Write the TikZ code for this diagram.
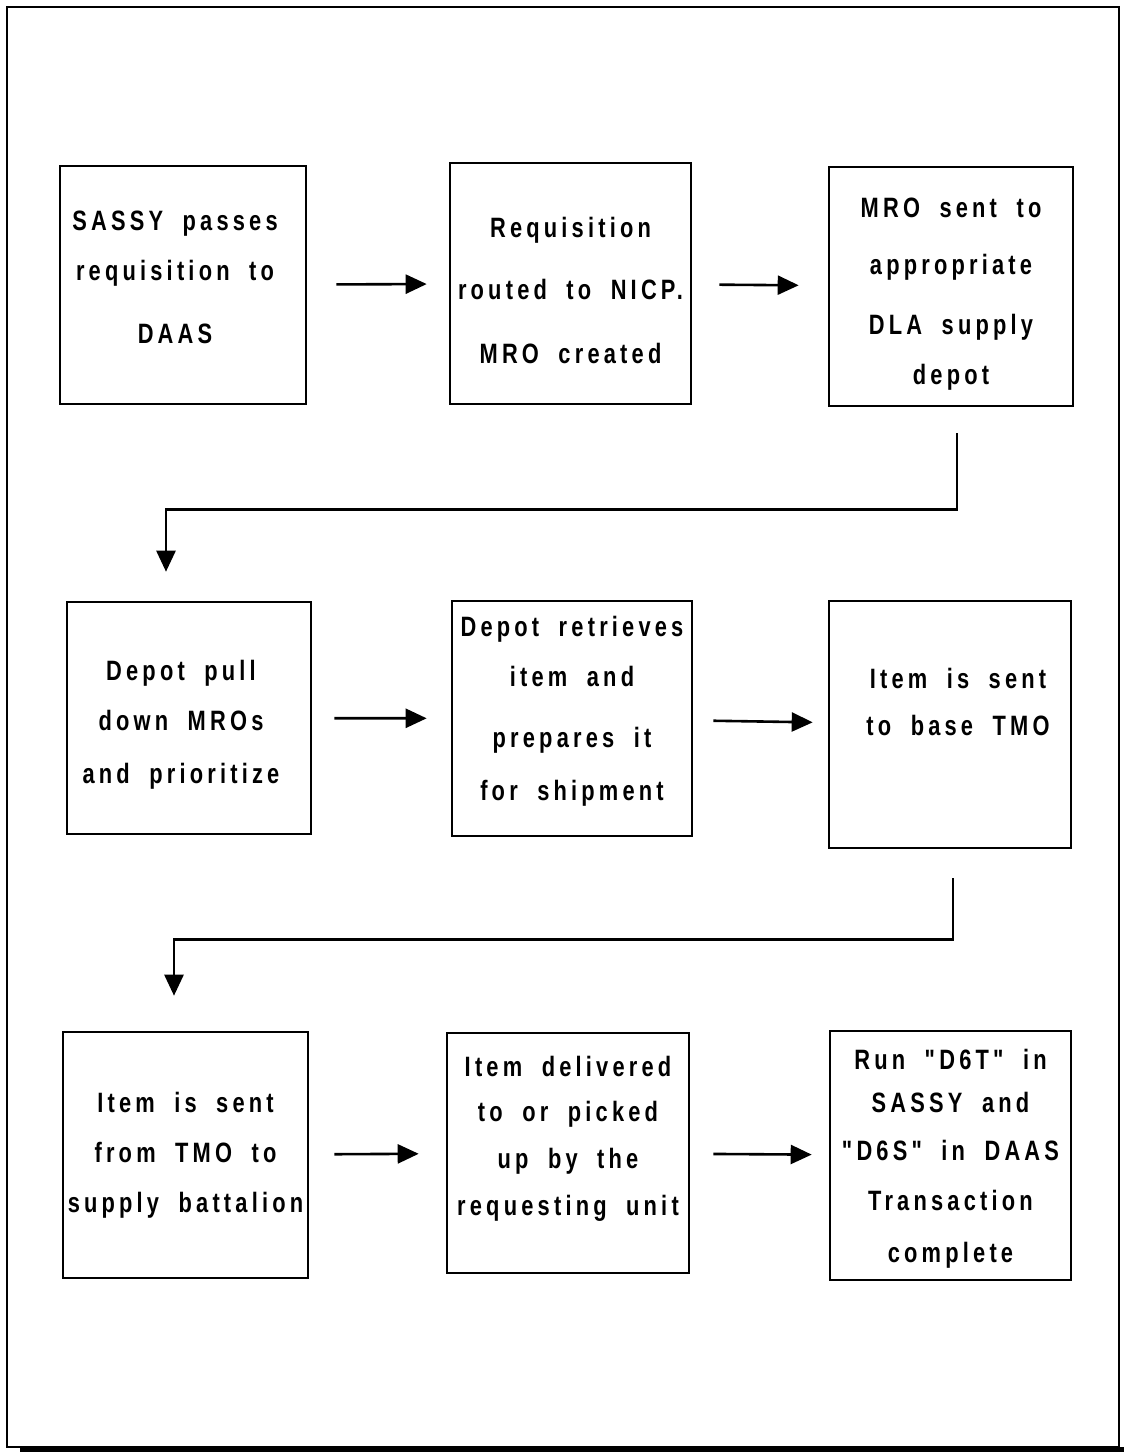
\documentclass[tikz,border=0pt]{standalone}
\usepackage{fontspec}
\newfontfamily\boxfont{Liberation Sans Bold}[FakeStretch=0.78, LetterSpace=15, WordSpace=1.9, Ligatures=TeXOff]
\usepackage{tikz}
\usetikzlibrary{arrows.meta, positioning, calc}

\tikzset{
  procbox/.style={draw, line width=2.6pt, inner sep=0pt},
  proctext/.style={inner sep=0pt, align=center, font=\boxfont\fontsize{28}{50}\selectfont},
  flow/.style={-{Triangle[length=21pt, width=19pt]}, line width=2.6pt},
}

\begin{document}
\begin{tikzpicture}[x=1pt, y=-1pt]
  \useasboundingbox (0,0) rectangle (1124,1452);

  % Frame
  \draw[line width=1.6pt] (7,7) rectangle (1119,1447);
  \draw[line width=5pt] (20,1449.5) -- (1124,1449.5);

  % Row 1
  \node[procbox, minimum width=246pt, minimum height=238pt] (sassy) at (183, 285) {};
  \node[procbox, minimum width=241pt, minimum height=241pt] (nicp) at (570.5, 283.5) {};
  \node[procbox, minimum width=244pt, minimum height=239pt] (mro) at (951, 286.5) {};
  \node[proctext] (sassytext) at ([xshift=-8pt, yshift=8pt]sassy.center) {SASSY passes\\requisition to\\[13pt]DAAS};
  \node[proctext] (nicptext) at ([yshift=-7pt]nicp.center) {Requisition\\[12pt]routed to NICP.\\[14pt]MRO created};
  \node[proctext] (mrotext) at ([yshift=-8pt]mro.center) {MRO sent to\\[7pt]appropriate\\[10pt]DLA supply\\depot};
  \draw[flow, shorten <=29pt, shorten >=22pt] (sassy) -- (nicp);
  \draw[flow, shorten <=27pt, shorten >=29pt] (nicp) -- (mro);

  % Row 2
  \node[procbox, minimum width=244pt, minimum height=232pt] (depot) at (189, 718) {};
  \node[procbox, minimum width=240pt, minimum height=235pt] (retrieve) at (572, 718.5) {};
  \node[procbox, minimum width=242pt, minimum height=247pt] (tmo) at (950, 724.5) {};
  \node[proctext] (depottext) at ([xshift=-8pt, yshift=-7pt]depot.center) {Depot pull\\down MROs\\[3pt]and prioritize};
  \node[proctext] (retrievetext) at ([yshift=7pt]retrieve.center) {Depot retrieves\\item and\\[11pt]prepares it\\[3pt]for shipment};
  \node[proctext] (tmotext) at ([xshift=8pt, yshift=23pt]tmo.center) {Item is sent\\[-3pt]to base TMO};
  \draw[flow, shorten <=22pt, shorten >=24pt] (depot) -- (retrieve);
  \draw[flow, shorten <=20pt, shorten >=15pt] (retrieve) -- (tmo);

  % Row 1 to row 2
  \draw[flow] ([xshift=6pt, yshift=-26pt]mro.south) -- ++(0,76) -| ([xshift=-23pt, yshift=29pt]depot.north);

  % Row 3
  \node[procbox, minimum width=245pt, minimum height=246pt] (battalion) at (185.5, 1155) {};
  \node[procbox, minimum width=242pt, minimum height=240pt] (unit) at (568, 1153) {};
  \node[procbox, minimum width=241pt, minimum height=249pt] (done) at (950.5, 1155.5) {};
  \node[proctext] (battaliontext) at (battalion.center) {Item is sent\\from TMO to\\supply battalion};
  \node[proctext] (unittext) at ([yshift=14pt]unit.center) {Item delivered\\[-5pt]to or picked\\[-3pt]up by the\\[-3pt]requesting unit};
  \node[proctext] (donetext) at ([yshift=-3pt]done.center) {Run "D6T" in\\[-7pt]SASSY and\\[-2pt]"D6S" in DAAS\\Transaction\\[2pt]complete};
  \draw[flow, shorten <=25pt, shorten >=27pt] (battalion) -- (unit);
  \draw[flow, shorten <=23pt, shorten >=17pt] (unit) -- (done);

  % Row 2 to row 3
  \draw[flow] ([xshift=3pt, yshift=-29pt]tmo.south) -- ++(0,61) -| ([xshift=-11.5pt, yshift=35pt]battalion.north);
\end{tikzpicture}
\end{document}
